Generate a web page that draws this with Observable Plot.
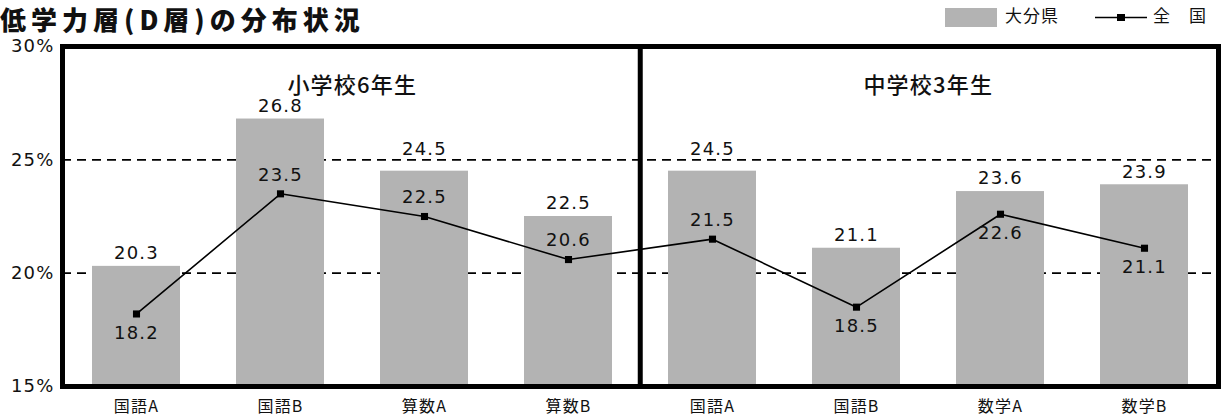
<!DOCTYPE html>
<html><head><meta charset="utf-8">
<script src="https://cdn.jsdelivr.net/npm/d3@7"></script>
<script src="https://cdn.jsdelivr.net/npm/@observablehq/plot@0.6"></script>
<style>
body{margin:0;background:#fff;font-family:"Noto Sans CJK JP","Noto Sans",sans-serif;color:#111;}
#head{position:relative;height:30px;width:1225px;}
#title{position:absolute;left:0;top:4px;font-size:26px;line-height:30px;font-weight:900;letter-spacing:5px;white-space:nowrap;}
.sw{position:absolute;left:945px;top:8px;width:52px;height:19px;background:#b3b3b3;}
.lt{position:absolute;top:3px;font-size:17px;line-height:24px;white-space:nowrap;letter-spacing:1px;}
#lineleg{position:absolute;left:1095px;top:8px;}
#chart text{letter-spacing:1.2px;}
#chart g[aria-label="group-title"] text{letter-spacing:2.5px;}
</style></head>
<body>
<div id="head">
  <div id="title">低学力層(D層)の分布状況</div>
  <div class="sw"></div>
  <div class="lt" style="left:1005px">大分県</div>
  <svg id="lineleg" width="54" height="19"><line x1="0" y1="9.5" x2="52" y2="9.5" stroke="#000" stroke-width="1.6"/><rect x="22" y="6" width="8" height="7" fill="#000"/></svg>
  <div class="lt" style="left:1153px">全　国</div>
</div>
<div id="chart"></div>
<script>
const schools = ["小学校6年生","小学校6年生","小学校6年生","小学校6年生","中学校3年生","中学校3年生","中学校3年生","中学校3年生"];
const subjects = ["国語A","国語B","算数A","算数B","国語A","国語B","数学A","数学B"];
const oita = [20.3, 26.8, 24.5, 22.5, 24.5, 21.1, 23.6, 23.9];
const national = [18.2, 23.5, 22.5, 20.6, 21.5, 18.5, 22.6, 21.1];
const yTicks = [15, 20, 25, 30];
const gridValues = [20, 25];
const groupTitles = ["小学校6年生", "中学校3年生"];

const rows = subjects.map((s, i) => ({
  key: schools[i] + "|" + s, school: schools[i], subject: s,
  oita: oita[i], national: national[i], i
}));

const W = 1225, ML = 62, MR = 7;
const step = (W - ML - MR) / rows.length;
const nationalLabelBelow = [true, false, false, false, false, true, true, true];
const nearGrid = d => gridValues.some(g => g > d.oita && g - d.oita < 1);
const font = "'DejaVu Sans','Noto Sans CJK JP',sans-serif";
const jfont = "'Noto Sans CJK JP',sans-serif";

const firstOfGroup = groupTitles.map(g => rows.find(r => r.school === g));
const titleAnchor = groupTitles.map(g => rows.filter(r => r.school === g)[2]);

const chart = Plot.plot({
  width: W, height: 386,
  marginLeft: ML, marginRight: MR, marginTop: 16, marginBottom: 30,
  style: {fontFamily: font, fontSize: "18px", color: "#111", background: "#fff"},
  x: {type: "band", domain: rows.map(d => d.key), padding: 0},
  y: {domain: [yTicks[0], yTicks[yTicks.length - 1]]},
  marks: [
    Plot.ruleY(gridValues, {stroke: "#000", strokeWidth: 1.6, strokeDasharray: "9,6"}),
    Plot.barY(rows, {x: "key", y1: yTicks[0], y2: "oita", fill: "#b3b3b3", insetLeft: 28, insetRight: 28}),
    Plot.text(rows.filter(d => !nearGrid(d)), {x: "key", y: "oita", text: d => d.oita.toFixed(1), dy: -13, fontSize: 18, fill: "#111"}),
    Plot.text(rows.filter(nearGrid), {x: "key", y: "oita", text: d => d.oita.toFixed(1), dy: -22, fontSize: 18, fill: "#111"}),
    Plot.line(rows, {x: "key", y: "national", stroke: "#000", strokeWidth: 1.6}),
    Plot.dot(rows, {x: "key", y: "national", symbol: "square", r: 4, fill: "#000", stroke: null}),
    Plot.text(rows.filter(d => !nationalLabelBelow[d.i]), {x: "key", y: "national", text: d => d.national.toFixed(1), dy: -19, fontSize: 18, fill: "#111"}),
    Plot.text(rows.filter(d => nationalLabelBelow[d.i]), {x: "key", y: "national", text: d => d.national.toFixed(1), dy: 19, fontSize: 18, fill: "#111"}),
    Plot.text(groupTitles, {x: (g, j) => titleAnchor[j].key, frameAnchor: "top", dy: 31, dx: -step / 2, text: d => d, fontSize: 22, fontWeight: 500, fontFamily: jfont, fill: "#111", ariaLabel: "group-title"}),
    Plot.ruleX([firstOfGroup[1].key], {dx: -step / 2, stroke: "#000", strokeWidth: 5}),
    Plot.frame({stroke: "#000", strokeWidth: 5}),
    Plot.axisY({ticks: yTicks, tickFormat: d => d + "%", tickSize: 0, tickPadding: 8, fontSize: 18, label: null}),
    Plot.axisX({tickSize: 0, tickPadding: 14, tickFormat: k => k.split("|")[1], fontSize: 16, fontFamily: jfont, label: null})
  ]
});
document.getElementById("chart").appendChild(chart);
</script>
</body></html>
